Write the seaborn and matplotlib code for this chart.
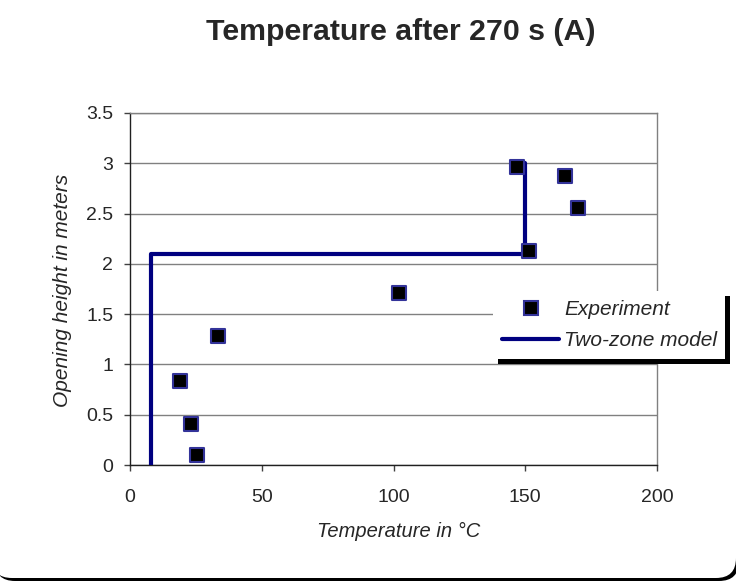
import matplotlib
matplotlib.use("Agg")
import matplotlib.pyplot as plt
import seaborn as sns
import pandas as pd
from matplotlib.patches import FancyBboxPatch
from matplotlib.lines import Line2D
import matplotlib.patheffects as pe

# Data
exp_temp = [147, 165, 170, 151.5, 102, 33.5, 19, 23, 25.3]
exp_height = [2.96, 2.87, 2.56, 2.13, 1.71, 1.28, 0.84, 0.41, 0.10]
model_temp = [8, 8, 150, 150]
model_height = [0, 2.1, 2.1, 3.0]
x_ticks = [0, 50, 100, 150, 200]
y_ticks = [0, 0.5, 1, 1.5, 2, 2.5, 3, 3.5]
y_tick_labels = ["0", "0.5", "1", "1.5", "2", "2.5", "3", "3.5"]

sns.set_style("white")
plt.rcParams['font.family'] = ['Liberation Sans', 'DejaVu Sans']

fig = plt.figure(figsize=(7.36, 5.83), dpi=100)

# Rounded chart-area background with black drop shadow (bottom/right)
shadow = FancyBboxPatch((-0.05, 0.02), 7.44, 7.0, boxstyle="round,pad=0,rounding_size=0.2",
                        transform=fig.dpi_scale_trans, facecolor="black", edgecolor="none",
                        zorder=-2)
panel = FancyBboxPatch((-0.08, 0.05), 7.44, 7.0, boxstyle="round,pad=0,rounding_size=0.2",
                       transform=fig.dpi_scale_trans, facecolor="white", edgecolor="none",
                       zorder=-1)
fig.patches.extend([shadow, panel])

ax = fig.add_axes([0.1766, 0.2024, 0.8927 - 0.1766, 0.8062 - 0.2024])

exp_df = pd.DataFrame({"t": exp_temp, "h": exp_height})
mod_df = pd.DataFrame({"t": model_temp, "h": model_height})

sns.lineplot(data=mod_df, x="t", y="h", sort=False, estimator=None, ax=ax,
             color="#000080", linewidth=3, zorder=3)
sns.scatterplot(data=exp_df, x="t", y="h", ax=ax, marker="s", s=105,
                color="black", edgecolor="#333399", linewidth=1.5, zorder=4)

ax.set_xlim(0, 200)
ax.set_ylim(0, 3.5)
ax.set_xticks(x_ticks)
ax.set_yticks(y_ticks)
ax.set_yticklabels(y_tick_labels)
ax.tick_params(axis="both", labelsize=14, length=4, width=1, color="#404040",
               direction="out", bottom=True, left=True)
ax.tick_params(axis="x", pad=13)
ax.tick_params(axis="y", pad=8)
ax.yaxis.grid(True, color="#808080", linewidth=1)
ax.xaxis.grid(False)
for side in ["top", "right"]:
    ax.spines[side].set_visible(True)
    ax.spines[side].set_color("#808080")
for side in ["left", "bottom"]:
    ax.spines[side].set_color("#202020")
for sp in ax.spines.values():
    sp.set_linewidth(1)

ax.set_xlabel("Temperature in °C", fontsize=14.5, style="italic")
ax.set_ylabel("Opening height in meters", fontsize=15, style="italic")
ax.xaxis.set_label_coords(0.51, -0.162)
ax.yaxis.set_label_coords(-0.110, 0.497)
fig.text(401 / 736, 1 - 40 / 583, "Temperature after 270 s (A)", ha="center", va="baseline",
         fontsize=21.8, fontweight="bold")

handles = [
    Line2D([], [], marker="s", linestyle="none", markersize=10,
           markerfacecolor="black", markeredgecolor="#333399", markeredgewidth=1.5),
    Line2D([], [], color="#000080", linewidth=3),
]
leg = fig.legend(handles, ["Experiment", "Two-zone model"], loc="upper left",
                 bbox_to_anchor=(493 / 736, 1 - 363 / 583, 232 / 736, 72 / 583),
                 mode="expand", borderaxespad=0,
                 prop={"size": 15, "style": "italic"}, frameon=True, fancybox=False,
                 framealpha=1, handlelength=2.75, handletextpad=0.25, labelspacing=0.59,
                 borderpad=0.43)
frame = leg.get_frame()
frame.set_facecolor("white")
frame.set_edgecolor("white")
frame.set_linewidth(0)
frame.set_path_effects([pe.SimplePatchShadow(offset=(3.5, -3.5), shadow_rgbFace="black", alpha=1),
                        pe.Normal()])

fig.savefig("out.png", dpi=100)
